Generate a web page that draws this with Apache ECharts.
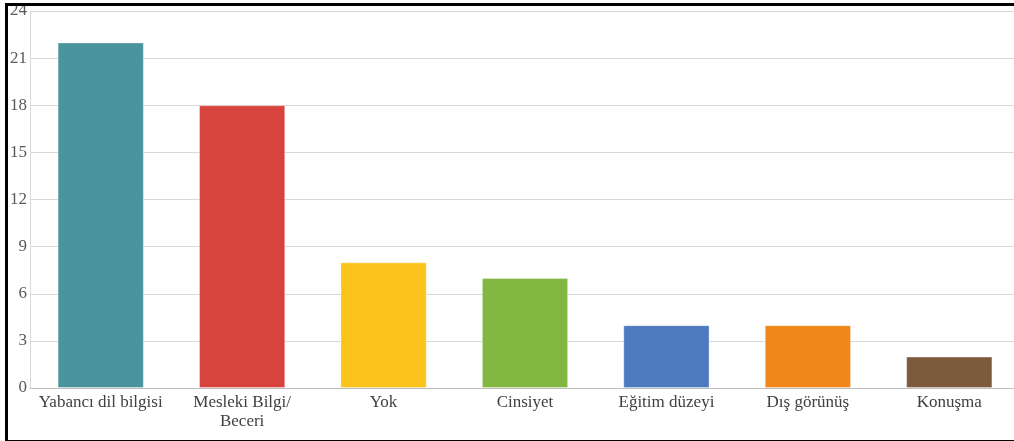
<!DOCTYPE html>
<html>
<head>
<meta charset="utf-8">
<script src="https://cdn.jsdelivr.net/npm/echarts@6/dist/echarts.min.js"></script>
<style>
  body { margin: 0; background: #fff; overflow: hidden; }
  #chart { width: 1020px; height: 441px; }
  #frame { position: absolute; left: 5px; top: 3px; width: 1020px; height: 434px;
           border-left: 3px solid #000; border-top: 3px solid #000; border-bottom: 3px solid #000;
           pointer-events: none; }
</style>
</head>
<body>
<div id="chart"></div>
<div id="frame"></div>
<script>
// kategoriler ve değerler
var categories = ['Yabancı dil bilgisi', 'Mesleki Bilgi/\nBeceri', 'Yok', 'Cinsiyet', 'Eğitim düzeyi', 'Dış görünüş', 'Konuşma'];
var values = [22, 18, 8, 7, 4, 4, 2];
var colors = ['#4A949D', '#D6443D', '#FBC31B', '#82B842', '#4D7ABF', '#EF871B', '#7D5A3B'];

var chart = echarts.init(document.getElementById('chart'));
chart.setOption({
    animation: false,
    grid: { left: 30, right: 0, top: 11, bottom: 53 },
    xAxis: {
        type: 'category',
        data: categories,
        axisTick: { show: false },
        axisLine: { lineStyle: { color: '#bfbfbf', width: 1 } },
        axisLabel: {
            interval: 0,
            margin: 5,
            fontFamily: 'Liberation Serif',
            fontSize: 17,
            lineHeight: 19,
            color: '#404040'
        }
    },
    yAxis: {
        type: 'value',
        min: 0,
        max: 24,
        interval: 3,
        axisLine: { show: true, lineStyle: { color: '#d9d9d9' } },
        axisTick: { show: false },
        splitLine: { lineStyle: { color: '#d9d9d9' } },
        axisLabel: {
            margin: 3,
            fontFamily: 'Liberation Serif',
            fontSize: 17,
            color: '#595959'
        }
    },
    series: [{
        type: 'bar',
        data: values.map(function (v, i) {
            return { value: v, itemStyle: { color: colors[i] } };
        }),
        barCategoryGap: '39%',
        itemStyle: { borderColor: 'rgba(255,255,255,0.35)', borderWidth: 1 }
    }]
});
</script>
</body>
</html>
